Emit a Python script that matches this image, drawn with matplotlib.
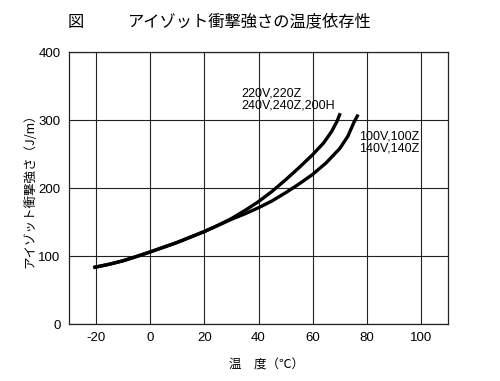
import matplotlib
matplotlib.use("Agg")
import matplotlib.pyplot as plt

# === Data ===
temp_a = [-21, -15, -10, -4.5, 0, 5, 10, 15, 20, 25, 30, 35, 40, 45, 50,
          55, 60, 64, 67, 69, 70.2]
izod_a = [83, 88, 93, 100, 106, 113, 120, 128, 136, 145, 155, 167, 180, 195,
          212, 230, 249, 266, 283, 298, 310]

temp_b = [-21, -15, -10, -4.5, 0, 5, 10, 15, 20, 25, 30, 35, 40, 45, 50,
          55, 60, 65, 70, 73, 75.3, 76.8]
izod_b = [83, 88, 93, 100, 106, 113, 120, 128, 136, 145, 154, 162, 171, 181,
          193, 206, 220, 237, 258, 276, 297, 308]

label_a = "220V,220Z\n240V,240Z,200H"
label_b = "100V,100Z\n140V,140Z"

x_ticks = [-20, 0, 20, 40, 60, 80, 100]
y_ticks = [0, 100, 200, 300, 400]

jp = ["Noto Sans CJK JP", "DejaVu Sans"]
latin = "Liberation Sans"
plt.rcParams["axes.unicode_minus"] = False

# === Figure ===
fig = plt.figure(figsize=(5.0, 3.81), dpi=100)
ax = fig.add_axes([0.138, 0.1496, 0.758, 0.7139])

for t, v in [(temp_a, izod_a), (temp_b, izod_b)]:
    ax.plot(t, v, color="black", lw=2.4, solid_joinstyle="round",
            solid_capstyle="butt")

ax.set_xlim(-30, 110)
ax.set_ylim(0, 400)
ax.set_xticks(x_ticks)
ax.set_yticks(y_ticks)
ax.tick_params(length=0, labelsize=9.5, pad=6)
for lab in ax.get_xticklabels() + ax.get_yticklabels():
    lab.set_family(latin)
ax.grid(True, color="#222222", lw=0.8)
for s in ax.spines.values():
    s.set_linewidth(0.9)
    s.set_color("#222222")

ax.text(33.6, 348, label_a, fontsize=9, family=latin, va="top", ha="left",
        linespacing=1.0)
ax.text(77, 284, label_b, fontsize=9, family=latin, va="top", ha="left",
        linespacing=1.0)

ax.set_xlabel("温　度（℃）", family=jp, fontsize=9, va="center")
ax.xaxis.set_label_coords(0.52, -0.151)
ax.set_ylabel("アイゾット衝撃強さ（J/m）", family=jp, fontsize=9, va="center")
ax.yaxis.set_label_coords(-0.103, 0.5)

fig.text(0.135, 0.942, "図", family=jp, fontsize=11.7, va="center")
fig.text(0.256, 0.942, "アイゾット衝撃強さの温度依存性", family=jp, fontsize=11.7,
         va="center")

fig.savefig("out.png", dpi=100)
